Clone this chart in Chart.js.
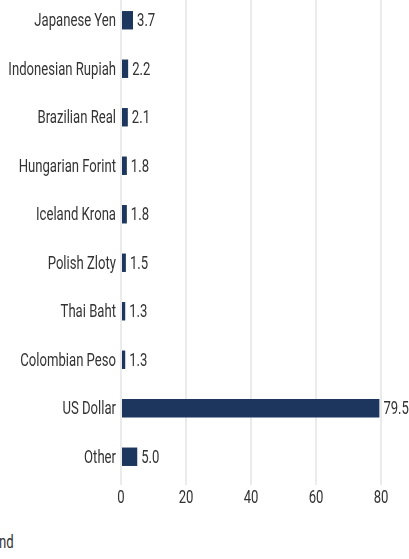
<!DOCTYPE html>
<html>
<head>
<meta charset="utf-8">
<script src="https://cdn.jsdelivr.net/npm/chart.js@4/dist/chart.umd.min.js"></script>
<style>
  html, body { margin: 0; padding: 0; background: #fff; overflow: hidden; }
  #wrap { position: absolute; left: 0; top: -4px; width: 409px; height: 530px; }
  #note { position: absolute; left: -1px; top: 530px; font: 19px Roboto, sans-serif; color: #333;
          transform: scaleX(0.69); transform-origin: left top; }
</style>
</head>
<body>
<div id="wrap"><canvas id="chart" width="409" height="530"></canvas></div>
<div id="note">nd</div>
<script>
const currencies = ['Japanese Yen', 'Indonesian Rupiah', 'Brazilian Real', 'Hungarian Forint', 'Iceland Krona',
    'Polish Zloty', 'Thai Baht', 'Colombian Peso', 'US Dollar', 'Other'];
const weights = [3.7, 2.2, 2.1, 1.8, 1.8, 1.5, 1.3, 1.3, 79.5, 5.0];
const xTicks = [0, 20, 40, 60, 80];

const FONT = '19px Roboto, sans-serif';
const TEXT = '#333333';
const SQUEEZE = 0.69; // the original uses a very condensed face

function squeezedText(ctx, text, x, y, align) {
    ctx.save();
    ctx.translate(x, y);
    ctx.scale(SQUEEZE, 1);
    ctx.textAlign = align;
    ctx.textBaseline = 'middle';
    ctx.fillText(text, 0, 0);
    ctx.restore();
}

// all text is drawn here so it can be narrowed
const labelPlugin = {
    id: 'labels',
    afterDatasetsDraw(chart) {
        const ctx = chart.ctx;
        const yScale = chart.scales.y;
        const xScale = chart.scales.x;
        ctx.font = FONT;
        ctx.fillStyle = TEXT;
        currencies.forEach((name, i) => {
            squeezedText(ctx, name, yScale.right - 5, yScale.getPixelForTick(i) + 1, 'right');
        });
        chart.getDatasetMeta(0).data.forEach((bar, i) => {
            squeezedText(ctx, weights[i].toFixed(1), bar.x + 4, bar.y + 1, 'left');
        });
        xTicks.forEach(v => {
            squeezedText(ctx, String(v), xScale.getPixelForValue(v), chart.chartArea.bottom + 17, 'center');
        });
    }
};

new Chart(document.getElementById('chart').getContext('2d'), {
    type: 'bar',
    data: {
        labels: currencies,
        datasets: [{
            data: weights,
            backgroundColor: '#1c365e',
            barPercentage: 0.38,
            categoryPercentage: 1
        }]
    },
    options: {
        indexAxis: 'y',
        responsive: false,
        animation: false,
        devicePixelRatio: 1,
        layout: { padding: { left: 0, right: 28, top: 0, bottom: 0 } },
        plugins: { legend: { display: false }, tooltip: { enabled: false } },
        scales: {
            x: {
                min: 0,
                max: 80,
                afterBuildTicks: (scale) => { scale.ticks = xTicks.map(v => ({ value: v })); },
                afterFit: (scale) => { scale.height = 45; },
                grid: { color: '#ebebeb', lineWidth: 2, drawTicks: true, tickLength: 4 },
                border: { display: false },
                ticks: { display: false }
            },
            y: {
                afterFit: (scale) => { scale.width = 121; },
                grid: { display: false, drawTicks: false },
                border: { display: false },
                ticks: { display: false }
            }
        }
    },
    plugins: [labelPlugin]
});
</script>
</body>
</html>
